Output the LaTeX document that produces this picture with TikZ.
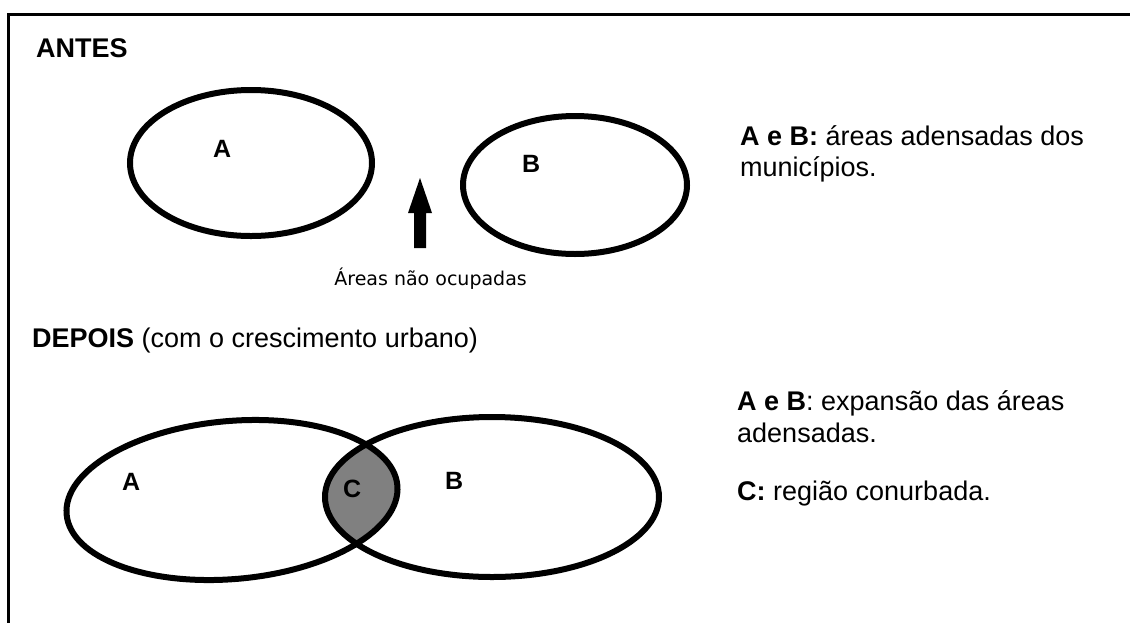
\documentclass[tikz,border=0pt]{standalone}
\usepackage{fontspec}
\setmainfont{Liberation Sans}
\newfontfamily\notefont{DejaVu Sans}
\definecolor{lensgray}{RGB}{128,128,128}
\begin{document}
\begin{tikzpicture}[x=1pt,y=-1pt,
  txt/.style={inner sep=0pt, anchor=base west, font=\fontsize{27}{31}\selectfont},
  lbl/.style={inner sep=0pt, anchor=base west, font=\fontsize{25}{28}\selectfont\bfseries},
  note/.style={inner sep=0pt, anchor=base east, font=\notefont\fontsize{19}{22}\selectfont},
  ring/.style={line width=6pt},
  frame/.style={line width=3pt}]
\useasboundingbox (0,0) rectangle (1130,622);
% frame
\coordinate (tl) at (8,14);
\coordinate (tr) at (1131,14);
\coordinate (bl) at (8,623);
\draw[frame] (tr) -- (tl) -- (bl);
% ANTES
\node[txt] (antes) at (36,57) {\bfseries ANTES};
\draw[ring] (251,163) ellipse (121 and 73);
\draw[ring] (575,185) ellipse (112 and 69);
\node[lbl] (la) at (213,157) {A};
\node[lbl] (lb) at (522,172) {B};
\fill (414,248) -- (414,213) -- (408,213) -- (420,178) -- (432,213) -- (426,213) -- (426,248) -- cycle;
\node[note] (nao) at (527,285) {Áreas não ocupadas};
\node[txt] (t1) at (740,145) {\bfseries A e B:\mdseries{} áreas adensadas dos};
\node[txt] (t2) at (740,176) {municípios.};
% DEPOIS
\node[txt] (depois) at (32,347) {\bfseries DEPOIS\mdseries{} (com o crescimento urbano)};
\begin{scope}
  \clip[rotate around={5:(232,500)}] (232,500) ellipse (166 and 79);
  \fill[lensgray] (492,497) ellipse (167 and 80);
\end{scope}
\draw[ring, rotate around={5:(232,500)}] (232,500) ellipse (166 and 79);
\draw[ring] (492,497) ellipse (167 and 80);
\node[lbl] (la2) at (122,490) {A};
\node[lbl] (lc) at (343,497) {C};
\node[lbl] (lb2) at (445,489) {B};
\node[txt] (t3) at (737,410) {\bfseries A e B\mdseries: expansão das áreas};
\node[txt] (t4) at (737,442) {adensadas.};
\node[txt] (t5) at (737,500) {\bfseries C:\mdseries{} região conurbada.};
\end{tikzpicture}
\end{document}
